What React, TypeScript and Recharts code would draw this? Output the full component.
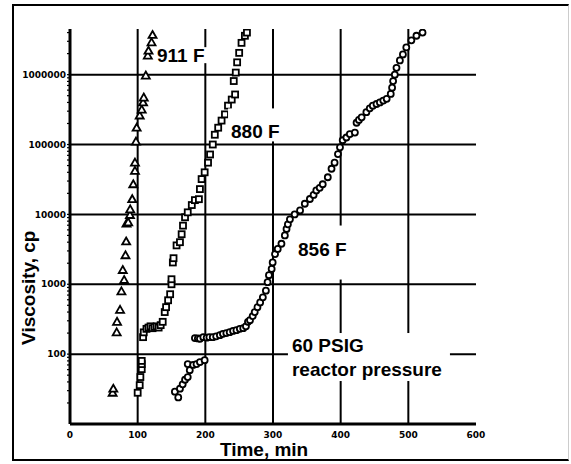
import React from "react";
import {
  ScatterChart,
  Scatter,
  XAxis,
  YAxis,
  CartesianGrid,
  ReferenceDot,
} from "recharts";

// 911 F run (triangles)
const t911 = [63, 64, 69, 69.5, 74, 76, 78, 80, 82, 83, 83.5, 86, 88.6, 89, 92, 93.5, 96, 96, 97.5, 98.5, 103, 106, 108, 109, 112, 115, 116, 120.5, 122];
const v911 = [28, 32, 205, 290, 430, 790, 1600, 1150, 2600, 4100, 7400, 7700, 9800, 11800, 16500, 27000, 42000, 55000, 110000, 174000, 260000, 316000, 400000, 470000, 970000, 1870000, 2200000, 2900000, 3700000];

// 880 F run (squares)
const t880 = [100, 103, 104, 106, 106, 106, 108, 109, 113, 116, 119, 122, 125, 128, 131, 134, 137, 140, 142, 145, 148, 150, 150, 152, 153, 157.5, 162.5, 165, 167, 170, 174, 180, 184.6, 190.5, 192, 194.5, 199, 204, 207, 211, 214, 219, 224, 229, 233.5, 239, 244, 242, 245, 247, 250, 253.5, 258.5, 261.5];
const v880 = [28, 36, 47, 61, 72, 80, 175, 205, 230, 240, 250, 235, 245, 250, 240, 260, 290, 400, 470, 590, 720, 1000, 1180, 2050, 2360, 3600, 4000, 5200, 6900, 9100, 10700, 13600, 16000, 16500, 23000, 32000, 40000, 55000, 72000, 100000, 138000, 174000, 220000, 270000, 360000, 440000, 520000, 810000, 1070000, 1500000, 2050000, 2850000, 3600000, 4000000];

// 856 F run (circles)
const t856 = [155, 160, 162.5, 166.5, 170, 174, 177, 174, 182, 187, 192, 199, 184.6, 189, 192, 197, 202, 206, 211, 216, 221.5, 226, 231, 236, 241, 246, 251, 256, 260, 263, 266, 270, 273, 277, 281, 285, 289.5, 292, 294, 298, 299.5, 303, 307, 312.5, 317.5, 320, 322, 325, 332, 340, 347, 354.5, 360, 364, 369, 373.5, 381, 386.5, 391, 396, 399, 403, 408.5, 413.5, 421, 423.5, 427, 431, 438, 443, 447.5, 453, 458, 463, 468, 474, 476, 477.5, 480, 482.5, 487.5, 492, 497, 504.5, 512, 521];
const v856 = [29, 24, 32, 37, 43, 47, 59, 72, 70, 72, 77, 82, 170, 168, 166, 175, 172, 175, 175, 180, 187, 195, 200, 206, 215, 220, 230, 235, 250, 290, 306, 350, 400, 470, 550, 650, 810, 1070, 1350, 1660, 2050, 2700, 3200, 3800, 5000, 6200, 7200, 8500, 10000, 11400, 14200, 16600, 19000, 22000, 24000, 27000, 34000, 45000, 55000, 73000, 91000, 115000, 126000, 141000, 148000, 205000, 225000, 245000, 290000, 330000, 360000, 380000, 400000, 425000, 450000, 530000, 650000, 810000, 1000000, 1250000, 1600000, 1950000, 2450000, 3100000, 3600000, 4000000];

const xTicks = [0, 100, 200, 300, 400, 500, 600];
const xGrid = [100, 200, 300, 400, 500];
const yDecades = [100, 1000, 10000, 100000, 1000000];
const yTicks = [
  20, 30, 40, 50, 60, 70, 80, 90,
  100, 200, 300, 400, 500, 600, 700, 800, 900,
  1000, 2000, 3000, 4000, 5000, 6000, 7000, 8000, 9000,
  10000, 20000, 30000, 40000, 50000, 60000, 70000, 80000, 90000,
  100000, 200000, 300000, 400000, 500000, 600000, 700000, 800000, 900000,
  1000000, 2000000, 3000000, 4000000,
];

const notes = [
  { text: "911 F", t: 128.6, v: 1900000, box: [-2, -8, 52, 16] },
  { text: "880 F", t: 238, v: 154000, box: [-3, -23, 55, 33] },
  { text: "856 F", t: 337, v: 3140, box: [-3, -24, 57, 54] },
  { text: "60 PSIG", t: 328, v: 135, box: [-4, -12, 162, 48] },
  { text: "reactor pressure", t: 328, v: 61, box: null },
];

const zip = (ts: number[], vs: number[]) => ts.map((t, i) => ({ t, v: vs[i] }));
const d911 = zip(t911, v911);
const d880 = zip(t880, v880);
const d856 = zip(t856, v856);

const tickFont = { fontFamily: "DejaVu Sans", fontWeight: 700, fontSize: 9, fill: "#000" };
const bigFont = { fontFamily: "Liberation Sans", fontWeight: 700, fontSize: 19, fill: "#000" };

const Tri = (p: any) => (
  <path
    d={`M${p.cx},${p.cy - 4} L${p.cx + 4},${p.cy + 3} L${p.cx - 4},${p.cy + 3} Z`}
    fill="#fff"
    stroke="#000"
    strokeWidth={1.8}
  />
);
const Sq = (p: any) => (
  <rect x={p.cx - 3} y={p.cy - 3} width={6} height={6} fill="#fff" stroke="#000" strokeWidth={1.8} />
);
const Circ = (p: any) => (
  <circle cx={p.cx} cy={p.cy} r={3} fill="#fff" stroke="#000" strokeWidth={1.8} />
);

const yLabel = (v: number) => (yDecades.includes(v) ? String(v) : "");

export default function App() {
  return (
    <div style={{ position: "absolute", left: 0, top: 0, width: 571, height: 464, background: "#fff" }}>
      <div
        style={{
          position: "absolute",
          left: 12,
          top: 4,
          width: 554,
          height: 453,
          borderTop: "2px solid #000",
          borderLeft: "2px solid #000",
          borderBottom: "2px solid #000",
          borderRight: "1px solid #ccc",
        }}
      />
      <ScatterChart
        width={571}
        height={464}
        margin={{ top: 29, right: 95, bottom: 0, left: 0 }}
        style={{ position: "absolute", left: 0, top: 0 }}
      >
        <CartesianGrid
          stroke="#000"
          strokeWidth={2}
          horizontalValues={yDecades}
          verticalValues={xGrid}
        />
        <XAxis
          dataKey="t"
          type="number"
          domain={[0, 600]}
          ticks={xTicks}
          interval={0}
          height={40}
          tickLine={false}
          tickSize={4}
          tickMargin={4}
          axisLine={{ stroke: "#000", strokeWidth: 3 }}
          tick={tickFont}
          label={(p: any) => (
            <text
              x={p.viewBox.x + p.viewBox.width * 0.478}
              y={p.viewBox.y + 32}
              textAnchor="middle"
              {...bigFont}
            >
              Time, min
            </text>
          )}
        />
        <XAxis
          xAxisId="top"
          orientation="top"
          type="number"
          domain={[0, 600]}
          ticks={xTicks}
          height={0}
          tickLine={false}
          tickFormatter={() => ""}
          axisLine={{ stroke: "#000", strokeWidth: 2 }}
        />
        <YAxis
          dataKey="v"
          type="number"
          scale="log"
          domain={[10, 4500000]}
          allowDataOverflow
          ticks={yTicks}
          interval={0}
          width={70}
          tickSize={3}
          tickMargin={1}
          tickFormatter={yLabel}
          tickLine={{ stroke: "#000", strokeWidth: 1.2 }}
          axisLine={{ stroke: "#000", strokeWidth: 3 }}
          tick={tickFont}
          label={(p: any) => (
            <text
              transform={`translate(${p.viewBox.x + 28},${p.viewBox.y + p.viewBox.height * 0.655}) rotate(-90)`}
              textAnchor="middle"
              dominantBaseline="central"
              {...bigFont}
            >
              Viscosity, cp
            </text>
          )}
        />
        <YAxis
          yAxisId="right"
          orientation="right"
          type="number"
          scale="log"
          domain={[10, 4500000]}
          allowDataOverflow
          ticks={yTicks}
          interval={0}
          width={0}
          tickSize={3}
          tickFormatter={() => ""}
          tickLine={{ stroke: "#000", strokeWidth: 1.2 }}
          axisLine={{ stroke: "#000", strokeWidth: 2.5 }}
        />
        <Scatter data={d911} shape={Tri} isAnimationActive={false} />
        <Scatter data={d880} shape={Sq} isAnimationActive={false} />
        <Scatter data={d856} shape={Circ} isAnimationActive={false} />
        {notes.map((n) => (
          <ReferenceDot
            key={n.text}
            x={n.t}
            y={n.v}
            ifOverflow="visible"
            shape={(p: any) => (
              <g>
                {n.box && (
                  <rect
                    x={p.cx + n.box[0]}
                    y={p.cy + n.box[1]}
                    width={n.box[2]}
                    height={n.box[3]}
                    fill="#fff"
                  />
                )}
                <text x={p.cx} y={p.cy} dominantBaseline="central" {...bigFont}>
                  {n.text}
                </text>
              </g>
            )}
          />
        ))}
      </ScatterChart>
    </div>
  );
}
